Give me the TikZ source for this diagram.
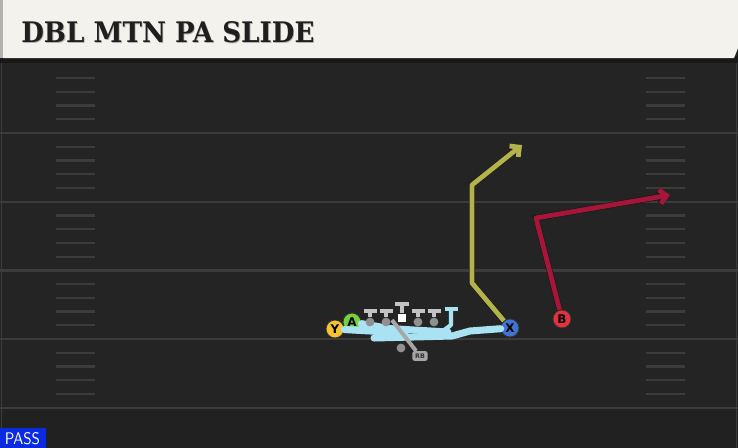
\documentclass[tikz,border=0pt]{standalone}
\usepackage{fontspec}
\usepackage{graphicx}
\usetikzlibrary{arrows.meta}
\newfontfamily\titlefont{DejaVu Serif}
\newfontfamily\markfont{DejaVu Sans}
\definecolor{fieldbg}{HTML}{242424}
\definecolor{yardgray}{HTML}{3C3C3C}
\definecolor{titlecream}{HTML}{F4F2EC}
\definecolor{routeolive}{HTML}{B4B24A}
\definecolor{routered}{HTML}{A8153A}
\definecolor{blockcyan}{HTML}{A9E3F3}
\definecolor{ycol}{HTML}{F3C331}
\definecolor{acol}{HTML}{74D23E}
\definecolor{xcol}{HTML}{3F74D3}
\definecolor{bcol}{HTML}{E3323C}
\definecolor{passblue}{HTML}{0A2BE0}
\definecolor{linegray}{HTML}{C4C4C4}
\definecolor{dotgray}{HTML}{909090}
\tikzset{
  player/.style={circle, draw=black!80, line width=0.6pt, minimum size=0.45cm, inner sep=0pt,
    font=\markfont\bfseries\fontsize{8.5}{8.5}\selectfont},
  lineman/.style={circle, fill=dotgray, minimum size=0.22cm, inner sep=0pt},
  route/.style={line width=3.4pt, line join=round,
    preaction={draw=black!90, line width=4.3pt}},
  blockline/.style={blockcyan, line width=5pt, line cap=round, line join=round},
  tbar/.style={linegray, line width=2.8pt},
  hash/.style={yardgray, line width=1.6pt},
}
\begin{document}
\begin{tikzpicture}[x=0.025cm, y=-0.025cm]
        \useasboundingbox (0,0) rectangle (738,448);

        % field
        \fill[fieldbg] (0,0) rectangle (738,448);
        \fill[fieldbg!92!black] (0,409) rectangle (738,448);
        \draw[yardgray, line width=1pt] (1.5,62) -- (1.5,448);
        \draw[yardgray, line width=1pt] (736.5,62) -- (736.5,448);

        % yard lines
        \draw[yardgray, line width=1.6pt] (0,133) -- (738,133);
        \draw[yardgray, line width=1.6pt] (0,201.7) -- (738,201.7);
        \draw[yardgray, line width=1.6pt] (0,270.4) -- (738,270.4);
        \draw[yardgray, line width=1.6pt] (0,339.1) -- (738,339.1);
        \draw[yardgray, line width=1.6pt] (0,407.8) -- (738,407.8);

        % hash marks
        \foreach \y in {64.3,133,201.7,270.4,339.1}
          \foreach \k in {1,2,3,4} {
            \draw[hash] (56,\y+13.74*\k) -- (95,\y+13.74*\k);
            \draw[hash] (646,\y+13.74*\k) -- (685,\y+13.74*\k);
          }

        % title bar
        \fill[black!90] (0,56) rectangle (738,63);
        \fill[titlecream] (3,0) -- (738,0) -- (738,48) -- (734,58) -- (3,58) -- cycle;
        \fill[gray!60] (0,0) rectangle (3,58);
        \node[inner sep=0pt, anchor=west, text=gray!60] at (21.8,32.9)
          {\resizebox{7.33cm}{0.525cm}{\titlefont\bfseries DBL MTN PA SLIDE}};
        \node[inner sep=0pt, anchor=west, text=black!88] (title) at (21,32.2)
          {\resizebox{7.33cm}{0.525cm}{\titlefont\bfseries DBL MTN PA SLIDE}};

        % play type
        \fill[passblue] (0,428) rectangle (46,448);
        \node[inner sep=0pt, text=white] (play) at (22.5,439)
          {\resizebox{0.875cm}{0.3cm}{\sffamily PASS}};

        % players
        \node[player, fill=ycol] (Y) at (335,329) {Y};
        \node[player, fill=acol] (A) at (352,322) {A};
        \node[player, fill=xcol] (X) at (510,328) {X};
        \node[player, fill=bcol] (B) at (562,319) {B};

        % blocks
        \draw[blockline] (X) -- (470,331) -- (452,336) -- (374,338);
        \draw[blockline] (Y) -- (405,333);
        \draw[blockline] (A) -- (398,330);
        \draw[blockline] (362,327) -- (448,332);
        \draw[blockcyan, line width=3pt, line join=round] (451,309) -- (451,325) -- (443,331);
        \draw[blockcyan, line width=3pt] (444.5,309) -- (457.5,309);

        % line
        \node[lineman] (lt) at (370,322) {};
        \node[lineman] (lg) at (386,322) {};
        \node[rectangle, fill=white, minimum size=0.22cm, inner sep=0pt] (c) at (402,318) {};
        \node[lineman] (rg) at (418,322) {};
        \node[lineman] (rt) at (434,322) {};
        \draw[tbar] (lt) -- (370,311);
        \draw[tbar] (363.5,311) -- (376.5,311);
        \draw[tbar] (lg) -- (386,311);
        \draw[tbar] (379.5,311) -- (392.5,311);
        \draw[tbar] (c) -- (402,304);
        \draw[tbar] (395,304) -- (409,304);
        \draw[tbar] (rg) -- (418,311);
        \draw[tbar] (411.5,311) -- (424.5,311);
        \draw[tbar] (rt) -- (434,311);
        \draw[tbar] (427.5,311) -- (440.5,311);

        % backfield
        \node[rectangle, rounded corners=1.5pt, fill=linegray!85!black, text=black!80,
          minimum width=0.38cm, minimum height=0.24cm, inner sep=0pt,
          font=\markfont\bfseries\fontsize{4.5}{4.5}\selectfont] (rb) at (420,356) {RB};
        \draw[linegray!85!black, line width=2.8pt] (392,320) -- (rb);
        \node[lineman] (qb) at (401,348) {};

        % routes
        \draw[route, routeolive, -{Straight Barb[length=5pt, width=10pt]}]
          (X) -- (472,283) -- (472,185) -- (522,145);
        \draw[route, routered, -{Straight Barb[length=5pt, width=10pt]}]
          (B) -- (536,218) -- (670,195);
    \end{tikzpicture}
\end{document}
